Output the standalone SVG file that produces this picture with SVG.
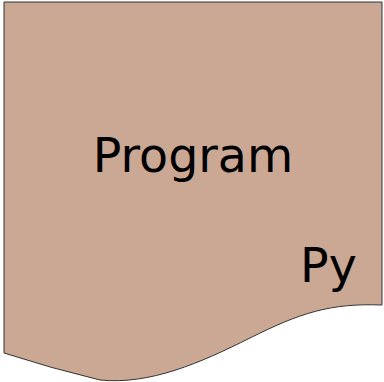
<svg xmlns="http://www.w3.org/2000/svg" width="384" height="382" viewBox="0 0 384 382">
<style>
.shape{fill:#cba894;stroke:#333;stroke-width:1}
.lbl{font-family:"DejaVu Sans",sans-serif;font-size:47.5px;fill:#000}
</style>
<g id="program">
<path class="shape" d="M4,2 H382 V305 C330,303 300,313 250,338 C200,363 150,385 100,380 Q50,368 4,353 Z"/>
<text class="lbl" x="193" y="172" text-anchor="middle">Program</text>
<text class="lbl" x="300" y="282">Py</text>
</g>
</svg>
